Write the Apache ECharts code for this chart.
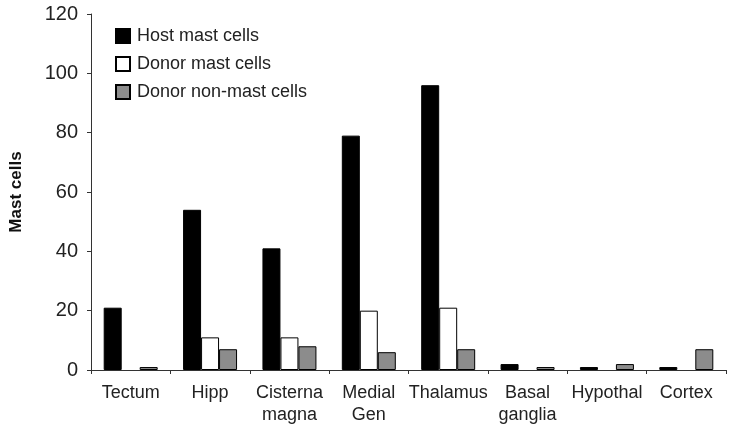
<!DOCTYPE html>
<html>
<head>
<meta charset="utf-8">
<script src="https://cdn.jsdelivr.net/npm/echarts@6/dist/echarts.min.js"></script>
<style>html,body{margin:0;padding:0;background:#fff;}#c{width:732px;height:431px;}</style>
</head>
<body>
<div id="c"></div>
<script>
const categories = ['Tectum', 'Hipp', 'Cisterna\nmagna', 'Medial\nGen', 'Thalamus', 'Basal\nganglia', 'Hypothal', 'Cortex'];
const hostMast = [21, 54, 41, 79, 96, 2, 1, 1];
const donorMast = [0, 11, 11, 20, 21, 0, 0, 0];
const donorNonMast = [1, 7, 8, 6, 7, 1, 2, 7];
const yTicks = [0, 20, 40, 60, 80, 100, 120];

const font = 'Liberation Sans, Arial, sans-serif';
const hideZero = arr => arr.map(v => (v === 0 ? '-' : v));
const chart = echarts.init(document.getElementById('c'), null, {renderer: 'canvas'});
const barBorder = {borderColor: '#000', borderWidth: 1};
chart.setOption({
  animation: false,
  backgroundColor: '#fff',
  grid: {left: 89, right: 6, top: 14, bottom: 61, containLabel: false},
  legend: {
    orient: 'vertical', left: 110, top: 22, itemWidth: 14, itemHeight: 14, itemGap: 10,
    icon: 'rect',
    textStyle: {fontFamily: font, fontSize: 18, color: '#222', padding: [0, 0, 0, 2]},
    data: ['Host mast cells', 'Donor mast cells', 'Donor non-mast cells']
  },
  xAxis: {
    type: 'category', data: categories,
    axisLine: {lineStyle: {color: '#333', width: 1}},
    axisTick: {show: true, length: 4, alignWithLabel: false, lineStyle: {color: '#333'}},
    axisLabel: {fontFamily: font, fontSize: 18, color: '#222', margin: 12, lineHeight: 22, interval: 0}
  },
  yAxis: {
    type: 'value', min: 0, max: 120, interval: 20,
    name: 'Mast cells', nameLocation: 'middle', nameGap: 66, nameRotate: 90,
    nameTextStyle: {fontFamily: font, fontSize: 17, fontWeight: 'bold', color: '#111'},
    splitLine: {show: false},
    axisLine: {show: true, lineStyle: {color: '#333', width: 1}},
    axisTick: {show: true, length: 4, lineStyle: {color: '#333'}},
    axisLabel: {fontFamily: font, fontSize: 20, color: '#222', margin: 13,
      formatter: v => yTicks.includes(v) ? String(v) : ''}
  },
  series: [
    {name: 'Host mast cells', type: 'bar', data: hideZero(hostMast), barGap: '0%', barCategoryGap: '32%',
      itemStyle: Object.assign({color: '#000'}, barBorder)},
    {name: 'Donor mast cells', type: 'bar', data: hideZero(donorMast),
      itemStyle: Object.assign({color: '#fff'}, barBorder)},
    {name: 'Donor non-mast cells', type: 'bar', data: hideZero(donorNonMast),
      itemStyle: Object.assign({color: '#8c8c8c'}, barBorder)}
  ]
});
</script>
</body>
</html>
